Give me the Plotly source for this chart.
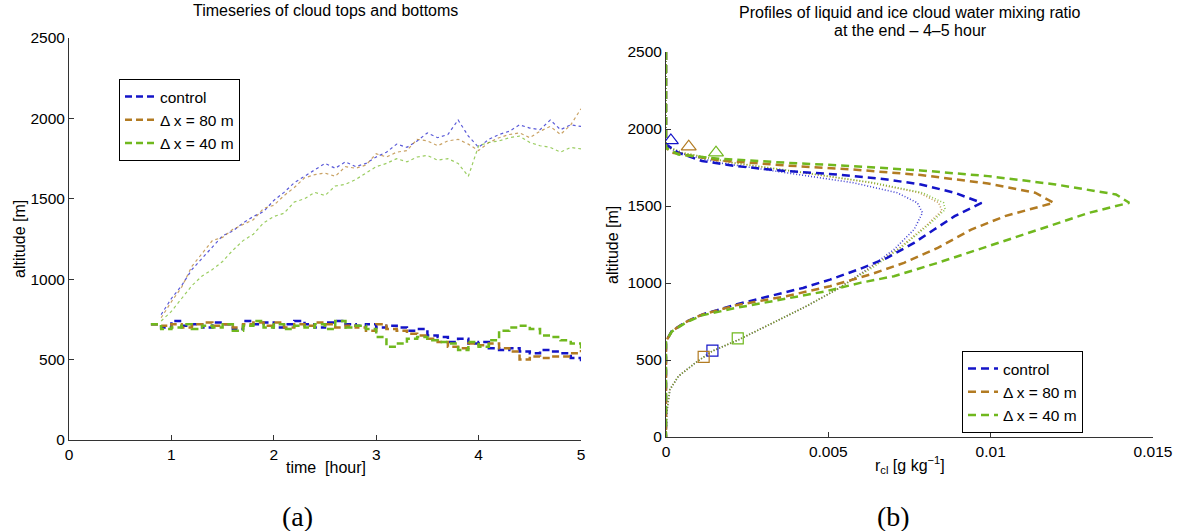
import plotly.graph_objects as go

# ---------------- panel (a): cloud tops and bottoms ----------------
time_top = [0.9, 1.0, 1.1, 1.2, 1.3, 1.4, 1.5, 1.6, 1.7, 1.8, 1.9, 2.0, 2.1, 2.2,
            2.3, 2.4, 2.5, 2.6, 2.7, 2.8, 2.9, 3.0, 3.1, 3.2, 3.3, 3.4, 3.5, 3.6,
            3.7, 3.8, 3.9, 4.0, 4.1, 4.2, 4.3, 4.4, 4.5, 4.6, 4.7, 4.8, 4.9, 5.0]
top_control = [780, 880, 960, 1060, 1130, 1200, 1270, 1300, 1350, 1390, 1420, 1490,
               1540, 1600, 1640, 1680, 1720, 1690, 1730, 1700, 1720, 1760, 1790, 1840,
               1820, 1860, 1910, 1880, 1900, 1990, 1890, 1820, 1870, 1900, 1920, 1960,
               1940, 1930, 1990, 1930, 1960, 1950]
top_dx80 = [760, 860, 950, 1080, 1160, 1240, 1260, 1310, 1340, 1370, 1440, 1460,
            1520, 1570, 1630, 1650, 1660, 1640, 1700, 1690, 1710, 1780, 1760, 1790,
            1800, 1870, 1860, 1830, 1860, 1870, 1840, 1800, 1850, 1880, 1900, 1910,
            1880, 1920, 1950, 1900, 1960, 2060]
top_dx40 = [740, 800, 880, 960, 1020, 1060, 1110, 1180, 1240, 1280, 1350, 1390,
            1410, 1480, 1500, 1540, 1520, 1580, 1590, 1620, 1660, 1700, 1720, 1750,
            1730, 1760, 1770, 1740, 1750, 1720, 1640, 1830, 1850, 1860, 1880, 1890,
            1850, 1830, 1820, 1790, 1820, 1810]

time_base = [0.8, 0.9, 1.0, 1.1, 1.2, 1.3, 1.4, 1.5, 1.6, 1.7, 1.8, 1.9, 2.0, 2.1,
             2.2, 2.3, 2.4, 2.5, 2.6, 2.7, 2.8, 2.9, 3.0, 3.1, 3.2, 3.3, 3.4, 3.5,
             3.6, 3.7, 3.8, 3.9, 4.0, 4.1, 4.2, 4.3, 4.4, 4.5, 4.6, 4.7, 4.8, 4.9, 5.0]
base_control = [720, 700, 740, 710, 720, 700, 730, 720, 690, 740, 720, 730, 700, 720,
                740, 720, 700, 730, 740, 720, 710, 720, 700, 710, 700, 680, 690, 650,
                640, 610, 630, 600, 610, 570, 560, 570, 550, 540, 560, 550, 540, 510, 490]
base_dx80 = [720, 710, 720, 700, 720, 730, 710, 720, 700, 720, 730, 710, 730, 700,
             720, 710, 730, 720, 700, 710, 700, 680, 720, 690, 680, 660, 650, 630,
             610, 580, 570, 600, 590, 600, 570, 550, 500, 520, 510, 520, 520, 540, 560]
base_dx40 = [720, 690, 700, 720, 690, 710, 700, 720, 680, 710, 740, 700, 720, 690,
             710, 700, 720, 690, 740, 700, 710, 690, 640, 580, 600, 630, 640, 620,
             610, 600, 560, 610, 580, 620, 680, 700, 710, 690, 650, 640, 620, 600, 560]

# ---------------- panel (b): profiles ----------------
liq_control_x = [0, 0, 0.00038, 0.00111, 0.00215, 0.0037, 0.00526, 0.00681, 0.00785,
                 0.00889, 0.00972, 0.00889, 0.00826, 0.00764, 0.00681, 0.00598, 0.00505,
                 0.00422, 0.00318, 0.00215, 0.00111, 0.00059, 0.000176, 0, 0]
liq_control_z = [2500, 1900, 1846, 1792, 1759, 1727, 1705, 1672, 1640, 1586, 1521, 1434,
                 1347, 1261, 1163, 1092, 1022, 968, 914, 860, 795, 745, 687, 622, 0]
liq_dx80_x = [0, 0, 0.00018, 0.00163, 0.0037, 0.00577, 0.00785, 0.00992, 0.01137,
              0.01194, 0.01044, 0.0094, 0.00837, 0.00733, 0.00629, 0.00505, 0.0037,
              0.00215, 0.00111, 0.00059, 0.00018, 0, 0]
liq_dx80_z = [2500, 1878, 1846, 1796, 1763, 1737, 1701, 1646, 1586, 1521, 1434, 1347,
              1228, 1131, 1055, 979, 914, 855, 795, 745, 687, 622, 0]
liq_dx40_x = [0, 0, 0.00038, 0.00163, 0.0037, 0.00577, 0.00785, 0.00992, 0.012,
              0.01386, 0.01427, 0.01303, 0.01148, 0.00992, 0.00837, 0.00702, 0.00598,
              0.00494, 0.0037, 0.00215, 0.00111, 0.00059, 0.00018, 0, 0]
liq_dx40_z = [2500, 1878, 1835, 1807, 1781, 1759, 1731, 1694, 1640, 1575, 1521, 1456,
              1347, 1239, 1131, 1044, 1001, 947, 897, 838, 790, 740, 685, 622, 0]

ice_control_x = [0, 0, 0.00038, 0.00163, 0.0037, 0.00577, 0.00712, 0.00774, 0.0079,
                 0.00764, 0.00702, 0.00619, 0.00526, 0.00432, 0.00329, 0.00225, 0.00142,
                 0.0009, 0.00038, 0.00012, 0.00002, 0]
ice_control_z = [2500, 1889, 1846, 1781, 1716, 1651, 1586, 1521, 1456, 1347, 1217, 1088,
                 958, 849, 741, 633, 557, 481, 394, 308, 156, 0]
ice_dx80_x = [0, 0, 0.0005, 0.002, 0.0042, 0.0063, 0.0078, 0.0084, 0.0085, 0.0080,
              0.0072, 0.0063, 0.00526, 0.00432, 0.00329, 0.00225, 0.00142, 0.0009,
              0.00038, 0.00012, 0.00002, 0]
ice_dx80_z = [2500, 1889, 1846, 1781, 1716, 1651, 1586, 1521, 1470, 1370, 1230, 1100,
              958, 849, 741, 633, 557, 481, 394, 308, 156, 0]
ice_dx40_x = [0, 0, 0.0005, 0.0021, 0.0043, 0.0064, 0.0079, 0.00855, 0.0086, 0.0081,
              0.0073, 0.0064, 0.00526, 0.00432, 0.00329, 0.00225, 0.00142, 0.0009,
              0.00038, 0.00012, 0.00002, 0]
ice_dx40_z = [2500, 1889, 1846, 1781, 1716, 1651, 1586, 1521, 1477, 1380, 1240, 1105,
              958, 849, 741, 633, 557, 481, 394, 308, 156, 0]

top_mark_x = [0.00015, 0.0007, 0.00154]
top_mark_z = [1926, 1885, 1846]
base_mark_x = [0.00143, 0.00116, 0.00221]
base_mark_z = [561, 520, 641]

series_names = ["control", "\u0394 x = 80 m", "\u0394 x = 40 m"]
colors = ["#1414c8", "#b27b22", "#70b81e"]

W, H = 1200, 531
def px(x):
    return x / W
def py(y):
    return 1 - y / H

fig = go.Figure()

tops = [top_control, top_dx80, top_dx40]
bases = [base_control, base_dx80, base_dx40]
for i in range(3):
    fig.add_trace(go.Scatter(x=time_top, y=tops[i], mode="lines", xaxis="x", yaxis="y",
                             line=dict(color=colors[i], width=1.2, dash="3px,3px"),
                             opacity=0.7, showlegend=False))
for i in range(3):
    fig.add_trace(go.Scatter(x=time_base, y=bases[i], mode="lines", xaxis="x", yaxis="y",
                             line=dict(color=colors[i], width=2.5, dash="7px,4px", shape="hv"),
                             name=series_names[i], legend="legend"))

ice_x = [ice_control_x, ice_dx80_x, ice_dx40_x]
ice_z = [ice_control_z, ice_dx80_z, ice_dx40_z]
liq_x = [liq_control_x, liq_dx80_x, liq_dx40_x]
liq_z = [liq_control_z, liq_dx80_z, liq_dx40_z]
for i in range(3):
    fig.add_trace(go.Scatter(x=ice_x[i], y=ice_z[i], mode="lines", xaxis="x2", yaxis="y2",
                             line=dict(color=colors[i], width=1.6, dash="1px,2px"),
                             opacity=0.8, showlegend=False))
for i in range(3):
    fig.add_trace(go.Scatter(x=liq_x[i], y=liq_z[i], mode="lines", xaxis="x2", yaxis="y2",
                             line=dict(color=colors[i], width=2.5, dash="8px,5px"),
                             name=series_names[i], legend="legend2"))
for i in range(3):
    fig.add_trace(go.Scatter(x=[top_mark_x[i]], y=[top_mark_z[i]], mode="markers",
                             xaxis="x2", yaxis="y2", showlegend=False,
                             marker=dict(symbol="triangle-up-open", size=13, color=colors[i],
                                         line=dict(width=1.2, color=colors[i]))))
    fig.add_trace(go.Scatter(x=[base_mark_x[i]], y=[base_mark_z[i]], mode="markers",
                             xaxis="x2", yaxis="y2", showlegend=False,
                             marker=dict(symbol="square-open", size=11, color=colors[i],
                                         line=dict(width=1.2, color=colors[i]))))

font_main = "Liberation Sans, Arial, Helvetica, sans-serif"
axis_common = dict(showline=True, linecolor="#333", linewidth=1, ticks="inside",
                   ticklen=5, tickcolor="#333", showgrid=False, zeroline=False,
                   automargin=False,
                   tickfont=dict(family=font_main, size=15.5, color="black"))

legend_common = dict(bgcolor="white", bordercolor="black", borderwidth=1,
                     font=dict(family=font_main, size=15.5, color="black"),
                     itemwidth=30, tracegroupgap=0, xanchor="left", yanchor="top")

fig.update_layout(
    width=W, height=H,
    margin=dict(l=0, r=0, t=0, b=0),
    paper_bgcolor="white", plot_bgcolor="white",
    hovermode=False,
    xaxis=dict(domain=[px(69), px(581)], range=[0, 5], anchor="y",
               tickvals=[0, 1, 2, 3, 4, 5], **axis_common),
    yaxis=dict(domain=[py(440), py(38)], range=[0, 2500], anchor="x",
               tickvals=[0, 500, 1000, 1500, 2000, 2500], **axis_common),
    xaxis2=dict(domain=[px(666), px(1153)], range=[0, 0.015], anchor="y2",
                tickvals=[0, 0.005, 0.01, 0.015], ticktext=["0", "0.005", "0.01", "0.015"],
                **axis_common),
    yaxis2=dict(domain=[py(437), py(52)], range=[0, 2500], anchor="x2",
                tickvals=[0, 500, 1000, 1500, 2000, 2500], **axis_common),
    legend=dict(x=px(119), y=py(79), **legend_common),
    legend2=dict(x=px(962), y=py(351), **legend_common),
    showlegend=True,
)

ann_font = dict(family=font_main, size=16, color="black")
cap_font = dict(family="Liberation Serif, DejaVu Serif, serif", size=28, color="black")
annotations = [
    dict(text="Timeseries of cloud tops and bottoms", x=px(325), y=py(11)),
    dict(text="Profiles of liquid and ice cloud water mixing ratio", x=px(910), y=py(12)),
    dict(text="at the end \u2013 4\u20135 hour", x=px(910), y=py(30)),
    dict(text="time  [hour]", x=px(326), y=py(467)),
    dict(text="r<sub>cl</sub> [g kg<sup>\u22121</sup>]", x=px(910), y=py(465)),
    dict(text="altitude [m]", x=px(19), y=py(239), textangle=-90),
    dict(text="altitude [m]", x=px(613), y=py(245), textangle=-90),
]
for a in annotations:
    fig.add_annotation(xref="paper", yref="paper", showarrow=False, xanchor="center",
                       yanchor="middle", font=ann_font, **a)
for txt, xx in [("(a)", 297), ("(b)", 893)]:
    fig.add_annotation(text=txt, xref="paper", yref="paper", x=px(xx), y=py(516),
                       showarrow=False, xanchor="center", yanchor="middle", font=cap_font)

fig.write_html("out.html",
               config={"displayModeBar": False, "staticPlot": True},
               post_script="document.body.style.margin='0';document.body.style.overflow='hidden';")
